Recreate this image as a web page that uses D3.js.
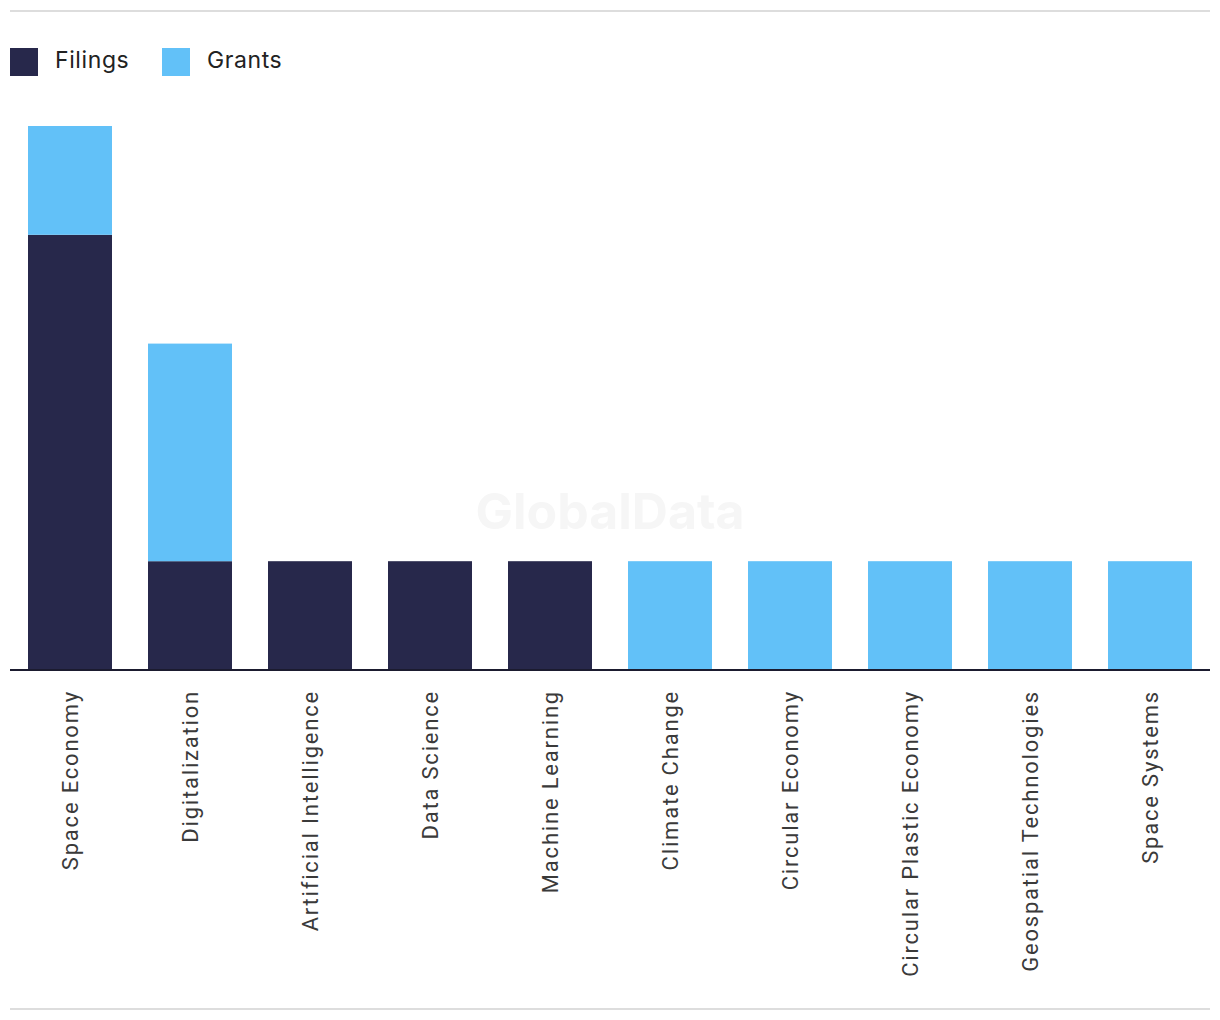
<!DOCTYPE html>
<html>
<head>
<meta charset="utf-8">
<script src="https://cdn.jsdelivr.net/npm/d3@7"></script>
<style>
  body { margin: 0; background: #fff; }
  svg { display: block; }
</style>
</head>
<body>
<svg id="chart"></svg>
<script>
const categories = ["Space Economy", "Digitalization", "Artificial Intelligence", "Data Science",
  "Machine Learning", "Climate Change", "Circular Economy", "Circular Plastic Economy",
  "Geospatial Technologies", "Space Systems"];
const filings = [4, 1, 1, 1, 1, 0, 0, 0, 0, 0];
const grants = [1, 2, 0, 0, 0, 1, 1, 1, 1, 1];
const seriesNames = ["Filings", "Grants"];
const colors = ["#27284b", "#62c1f8"];

const W = 1220, H = 1020;
const baseY = 670;

const svg = d3.select("#chart").attr("width", W).attr("height", H);

// top and bottom rules
svg.append("line").attr("x1", 10).attr("x2", 1210).attr("y1", 11).attr("y2", 11)
  .attr("stroke", "#dddddd").attr("stroke-width", 2);
svg.append("line").attr("x1", 10).attr("x2", 1210).attr("y1", 1009).attr("y2", 1009)
  .attr("stroke", "#dddddd").attr("stroke-width", 2);

// legend
const legend = svg.append("g").attr("transform", "translate(10,48)");
const items = legend.selectAll("g").data(seriesNames).enter().append("g")
  .attr("transform", (d, i) => `translate(${i * 152},0)`);
items.append("rect").attr("width", 28).attr("height", 28).attr("fill", (d, i) => colors[i]);
items.append("text").attr("x", 45).attr("y", 20)
  .attr("font-family", "Inter, sans-serif").attr("font-size", 23)
  .attr("letter-spacing", 0.6).attr("fill", "#222")
  .text(d => d);

// watermark
svg.append("text").attr("x", 610).attr("y", 529).attr("text-anchor", "middle")
  .attr("font-family", "Inter, 'Liberation Sans', sans-serif").attr("font-weight", 700)
  .attr("font-size", 50).attr("fill", "#f6f6f6").text("GlobalData");

const x = d3.scaleBand().domain(categories).range([10, 1210])
  .paddingInner(0.3).paddingOuter(0.15);
const y = d3.scaleLinear().domain([0, 5]).range([baseY, 126]);

const data = categories.map((c, i) => ({ cat: c, Filings: filings[i], Grants: grants[i] }));
const stacked = d3.stack().keys(seriesNames)(data);

svg.append("g").selectAll("g").data(stacked).enter().append("g")
  .attr("fill", (d, i) => colors[i])
  .selectAll("rect").data(d => d).enter().append("rect")
  .attr("x", d => x(d.data.cat))
  .attr("width", x.bandwidth())
  .attr("y", d => y(d[1]))
  .attr("height", d => y(d[0]) - y(d[1]));

// x axis
const xAxis = svg.append("g").attr("transform", `translate(0,${baseY})`)
  .call(d3.axisBottom(x).tickSize(0).tickPadding(0));
xAxis.select(".domain").attr("stroke", "#1b1b2f").attr("stroke-width", 2)
  .attr("d", "M10,0H1210");
xAxis.selectAll("text")
  .attr("font-family", "Roboto, sans-serif")
  .attr("font-size", 22)
  .attr("letter-spacing", 1.8)
  .attr("fill", "#3a3a3a")
  .attr("text-anchor", "end")
  .attr("dy", "0.35em")
  .attr("transform", "translate(0,20) rotate(-90)")
  .attr("y", 0).attr("x", 0);
</script>
</body>
</html>
